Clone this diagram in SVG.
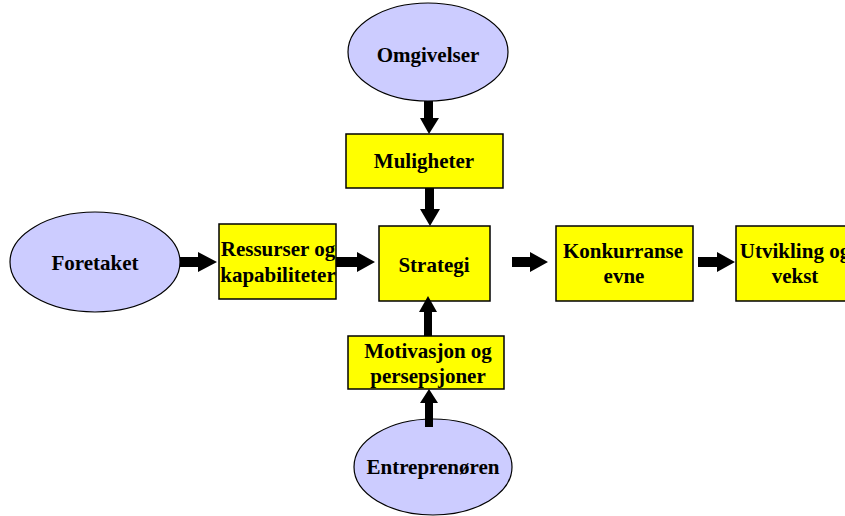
<svg xmlns="http://www.w3.org/2000/svg" width="845" height="516" viewBox="0 0 845 516">
<style>
.ell{fill:#ccccff;stroke:#000;stroke-width:1.2}
.box{fill:#ffff00;stroke:#000;stroke-width:1.5}
.t{font-family:"Liberation Serif","Times New Roman",serif;font-weight:bold;font-size:21px;text-anchor:middle;fill:#000}
.a{fill:#000}
</style>
<rect width="845" height="516" fill="#fff"/>
<g id="omgivelser"><ellipse class="ell" cx="428" cy="52" rx="80" ry="49"/><text class="t" x="428" y="62">Omgivelser</text></g>
<g id="muligheter"><rect class="box" x="346" y="134" width="157" height="54"/><text class="t" x="424" y="168">Muligheter</text></g>
<g id="foretaket"><ellipse class="ell" cx="95" cy="262" rx="85" ry="50"/><text class="t" x="95" y="270">Foretaket</text></g>
<g id="ressurser"><rect class="box" x="219" y="224" width="117" height="75"/><text class="t" x="278" y="256">Ressurser og</text><text class="t" x="278" y="282">kapabiliteter</text></g>
<g id="strategi"><rect class="box" x="379" y="226" width="111" height="75"/><text class="t" x="434" y="272">Strategi</text></g>
<g id="konkurranse"><rect class="box" x="556" y="226" width="137" height="75"/><text class="t" x="623" y="258">Konkurranse</text><text class="t" x="624" y="283">evne</text></g>
<g id="utvikling"><rect class="box" x="736" y="226" width="118" height="75"/><text class="t" x="795" y="258">Utvikling og</text><text class="t" x="795" y="283">vekst</text></g>
<g id="motivasjon"><rect class="box" x="348" y="336" width="156" height="53"/><text class="t" x="428" y="358">Motivasjon og</text><text class="t" x="428" y="383">persepsjoner</text></g>
<g id="entreprenoren"><ellipse class="ell" cx="433" cy="467" rx="79" ry="48"/><text class="t" x="433" y="474">Entreprenøren</text></g>
<g id="connectors">
<path class="a" d="M424,101 H433 V118 H439 L429,134 L420,118 H424 Z"/>
<path class="a" d="M425,188 H434 V209 H440 L430,226 L420,209 H425 Z"/>
<path class="a" d="M180,257 H198 V252 L217,262 L198,272 V267 H180 Z"/>
<path class="a" d="M336,257 H357 V252 L375,262 L357,272 V267 H336 Z"/>
<path class="a" d="M512,257 H530 V252 L548,262 L530,272 V267 H512 Z"/>
<path class="a" d="M698,257 H717 V252 L735,262 L717,272 V267 H698 Z"/>
<path class="a" d="M424,336 V312 H419 L428,296 L437,312 H432 V336 Z"/>
<path class="a" d="M425,427 V403 H420 L429,389 L438,403 H433 V427 Z"/>
</g>
</svg>
